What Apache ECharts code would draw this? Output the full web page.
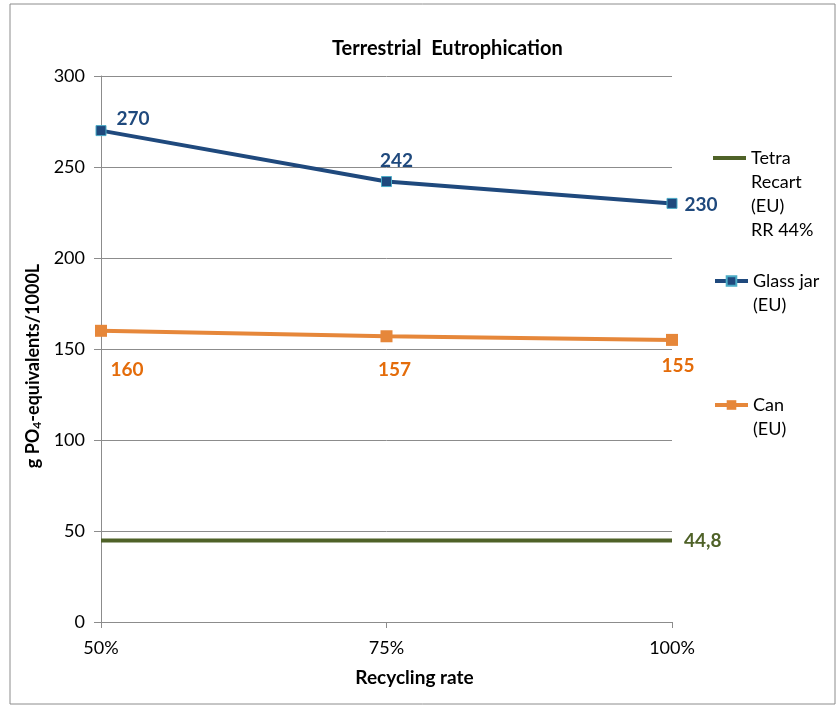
<!DOCTYPE html>
<html>
<head>
<meta charset="utf-8">
<script src="https://cdn.jsdelivr.net/npm/echarts@6/dist/echarts.min.js"></script>
<style>
  html, body { margin: 0; padding: 0; background: #fff; }
  #chart { width: 840px; height: 707px; }
</style>
</head>
<body>
<div id="chart"></div>
<script>
const categories = ['50%', '75%', '100%'];
const tetraValues = [44.8, 44.8, 44.8];
const glassValues = [270, 242, 230];
const canValues = [160, 157, 155];
const yTicks = { min: 0, max: 300, interval: 50 };

const FONT = 'Lato, "Noto Sans", sans-serif';
const grey = '#8c8c8c';
const LH = 24;

// label offsets per point (style only)
const glassOffsets = [[32, -12], [10, -21], [29, 1]];
const canOffsets = [[26, 39], [8, 34], [6, 26]];

function withLabels(values, offsets, color) {
  return values.map((v, i) => ({
    value: v,
    label: {
      show: true,
      position: 'inside',
      offset: offsets[i],
      color: color,
      fontWeight: 'bold',
      fontSize: 19,
      fontFamily: FONT
    }
  }));
}

// one legend per series, icon lined up with the first text line
function legendBox(item, iconY, itemHeight) {
  const lines = item.name.split('\n').length;
  return {
    left: 713,
    top: iconY - (2 * lines - 1) * LH / 2,
    orient: 'vertical',
    data: [item],
    itemWidth: 33,
    itemHeight: itemHeight,
    padding: 0,
    lineStyle: { width: 4 },
    formatter: name => '\n'.repeat(lines - 1) + name,
    textStyle: { fontFamily: FONT, fontSize: 18, color: '#000', lineHeight: LH }
  };
}

const chart = echarts.init(document.getElementById('chart'));
chart.setOption({
  animation: false,
  backgroundColor: '#fff',
  title: {
    text: 'Terrestrial  Eutrophication',
    left: 327,
    top: 34,
    textStyle: { fontFamily: FONT, fontSize: 20, fontWeight: 'bold', color: '#000' }
  },
  graphic: [{
    type: 'rect',
    shape: { x: 10, y: 4, width: 825, height: 700 },
    style: { fill: 'none', stroke: grey, lineWidth: 1 },
    silent: true
  }],
  legend: [
    legendBox({ name: 'Tetra\nRecart\n(EU)\nRR 44%', icon: 'rect' }, 158, 4),
    legendBox({ name: 'Glass jar\n(EU)' }, 281, 12),
    legendBox({ name: 'Can\n(EU)' }, 405, 12)
  ],
  grid: { left: 101, right: 168, top: 76, bottom: 85 },
  xAxis: {
    type: 'category',
    data: categories,
    boundaryGap: false,
    name: 'Recycling rate',
    nameLocation: 'middle',
    nameGap: 46,
    nameTextStyle: { fontFamily: FONT, fontSize: 19, fontWeight: 'bold', color: '#000', padding: [0, 0, 0, 56] },
    axisLine: { lineStyle: { color: grey, width: 1 } },
    axisTick: { show: true, length: 6, lineStyle: { color: grey } },
    axisLabel: { fontFamily: FONT, fontSize: 18, color: '#000', margin: 17 },
    splitLine: { show: false }
  },
  yAxis: {
    type: 'value',
    min: yTicks.min,
    max: yTicks.max,
    interval: yTicks.interval,
    name: '{a|g PO}{s|4}{a|-equivalents/1000L}',
    nameLocation: 'middle',
    nameGap: 52,
    nameTextStyle: {
      padding: [0, 34, 0, 0],
      rich: {
        a: { fontFamily: FONT, fontSize: 18, fontWeight: 'bold', color: '#000' },
        s: { fontFamily: FONT, fontSize: 12, fontWeight: 'bold', color: '#000', padding: [7, 0, 0, 0] }
      }
    },
    axisLine: { show: true, lineStyle: { color: grey, width: 1 } },
    axisTick: { show: true, length: 7, lineStyle: { color: grey } },
    axisLabel: { fontFamily: FONT, fontSize: 18, color: '#000', margin: 16 },
    splitLine: { show: true, lineStyle: { color: grey, width: 1 } }
  },
  series: [
    {
      name: 'Tetra\nRecart\n(EU)\nRR 44%',
      type: 'line',
      data: tetraValues,
      symbol: 'none',
      lineStyle: { color: '#4F6228', width: 4 },
      itemStyle: { color: '#4F6228' },
      endLabel: {
        show: true,
        distance: 12,
        formatter: p => String(p.value).replace('.', ','),
        color: '#4F6228',
        fontWeight: 'bold',
        fontSize: 19,
        fontFamily: FONT
      },
      z: 2
    },
    {
      name: 'Glass jar\n(EU)',
      type: 'line',
      data: withLabels(glassValues, glassOffsets, '#1F497D'),
      symbol: 'rect',
      symbolSize: 10,
      lineStyle: { color: '#1F497D', width: 4 },
      itemStyle: { color: '#1F497D', borderColor: '#4BACC6', borderWidth: 1 },
      z: 3
    },
    {
      name: 'Can\n(EU)',
      type: 'line',
      data: withLabels(canValues, canOffsets, '#E46C0A'),
      symbol: 'rect',
      symbolSize: 12,
      lineStyle: { color: '#E6873A', width: 4 },
      itemStyle: { color: '#E6873A' },
      z: 3
    }
  ]
});
</script>
</body>
</html>
